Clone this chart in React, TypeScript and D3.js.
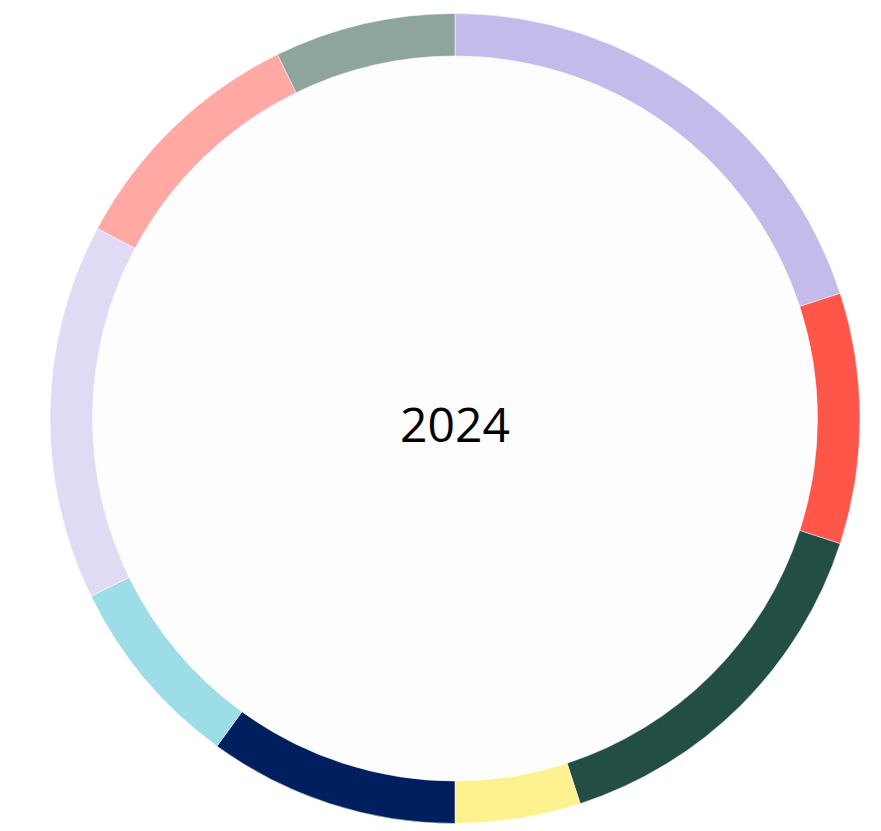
import React from "react";
import * as d3 from "d3";

// Segments in clockwise order from 12 o'clock
const categories = ["A", "B", "C", "D", "E", "F", "G", "H", "I"];
const values = [36, 18, 27, 9, 18, 14, 27, 18, 13];
const colors = ["#c4bbeb", "#ff564a", "#234e43", "#fef290", "#001f5f", "#9cdde8", "#e0daf5", "#ffa8a4", "#8ea59e"];
const centerLabel = "2024";

const width = 881;
const height = 831;

const App: React.FC = () => {
  const cx = 455;
  const cy = 418.5;
  const outerR = 405;
  const innerR = 362.5;

  const pie = d3
    .pie<number>()
    .sort(null)
    .value((d) => d);

  const arcs = pie(values);

  const arcGen = d3
    .arc<d3.PieArcDatum<number>>()
    .innerRadius(innerR)
    .outerRadius(outerR);

  return (
    <svg
      width={width}
      height={height}
      style={{ position: "absolute", left: 0, top: 0, background: "#ffffff" }}
    >
      <g transform={`translate(${cx},${cy})`}>
        <circle r={innerR} fill="#fdfdfd" />
        {arcs.map((a, i) => (
          <path
            key={categories[i]}
            d={arcGen(a) || ""}
            fill={colors[i]}
            stroke="#ffffff"
            strokeWidth={0.5}
          />
        ))}
        <text
          x={0}
          y={23}
          textAnchor="middle"
          fontFamily="'Open Sans', 'Noto Sans', sans-serif"
          fontSize={48}
          fill="#000000"
        >
          {centerLabel}
        </text>
      </g>
    </svg>
  );
};

export default App;
